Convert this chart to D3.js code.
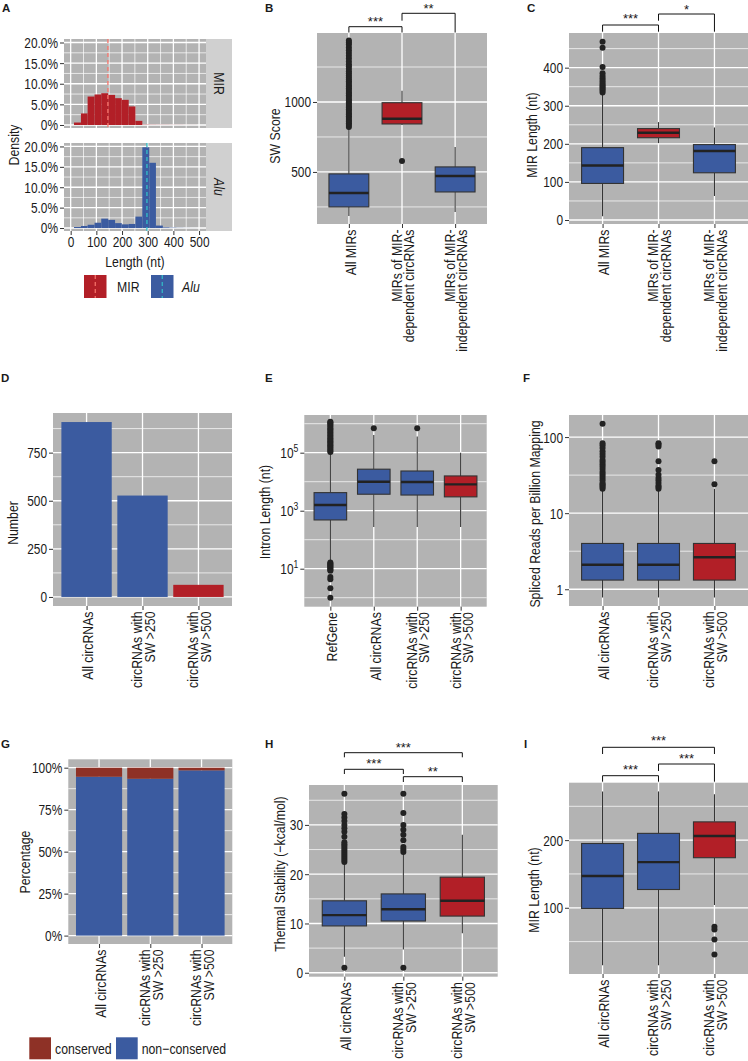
<!DOCTYPE html>
<html><head><meta charset="utf-8">
<script src="https://cdn.jsdelivr.net/npm/d3@7"></script>
<style>
body{margin:0;background:#fff}
svg text{font-family:"Liberation Sans",Arial,Helvetica,sans-serif;fill:#1a1a1a}
</style></head><body>
<svg id="fig" width="748" height="1061"></svg>
<script>
// ================= DATA =================
// Panel A: histogram (bin left edges in nt, density as fraction)
const histBinStarts = [13, 40, 66, 93, 119, 146, 173, 199, 226, 252, 279, 306, 332, 359, 385, 412, 439, 465];
const histBinWidth = 26.6;
const mirDensity = [0.006, 0.028, 0.069, 0.074, 0.077, 0.073, 0.065, 0.061, 0.045, 0.010, 0.0006, 0.0004, 0.0003, 0.0003, 0.0002, 0.0002, 0.0001, 0.0001];
const aluDensity = [0.0025, 0.005, 0.008, 0.013, 0.023, 0.020, 0.012, 0.009, 0.010, 0.028, 0.198, 0.160, 0.006, 0.0015, 0.0008, 0.0004, 0.0002, 0.0001];
const mirMedianLen = 145, aluMedianLen = 297;
const aXTicks = [0, 100, 200, 300, 400, 500];
const aYTicks = [0, 0.05, 0.10, 0.15, 0.20];
const aYLabels = ["0%", "5.0%", "10.0%", "15.0%", "20.0%"];
const aFacets = ["MIR", "Alu"];

// Panel B: SW score
const bCats = ["All MIRs", "MIRs of MIR-|dependent circRNAs", "MIRs of MIR-|independent circRNAs"];
const bQ1 = [250, 843, 357], bMed = [350, 880, 471], bQ3 = [486, 995, 536];
const bLo = [186, 835, 214], bHi = [818, 1080, 679];
const bOut = [[822, 835, 848, 860, 872, 885, 898, 910, 922, 935, 948, 960, 972, 985, 998, 1010, 1022, 1035, 1048, 1060, 1072, 1085, 1098, 1110, 1122, 1135, 1148, 1160, 1175, 1190, 1205, 1220, 1238, 1255, 1270, 1290, 1310, 1330, 1350, 1370, 1390, 1410, 1425, 1440], [578], []];
const bYTicks = [500, 1000], bYMinor = [250, 750, 1250];
const bSig = [{a: 0, b: 1, label: "***"}, {a: 1, b: 2, label: "**"}];

// Panel C: MIR length
const cQ1 = [96, 216, 124], cMed = [143, 229, 181], cQ3 = [190, 240, 198];
const cLo = [10, 202, 63], cHi = [330, 257, 243];
const cOut = [[335, 340, 344, 348, 352, 356, 361, 366, 372, 378, 385, 402, 452, 468], [], []];
const cYTicks = [0, 100, 200, 300, 400], cYMinor = [50, 150, 250, 350, 450];
const cSig = [{a: 0, b: 1, label: "***"}, {a: 1, b: 2, label: "*"}];

// Panel D: number of circRNAs
const dCats = ["All circRNAs", "circRNAs with|SW >250", "circRNAs with|SW >500"];
const dCounts = [909, 527, 63];
const dYTicks = [0, 250, 500, 750], dYMinor = [125, 375, 625, 875];

// Panel E: intron length (log)
const eCats = ["RefGene", "All circRNAs", "circRNAs with|SW >250", "circRNAs with|SW >500"];
const eQ1 = [480, 3700, 3470, 3000], eMed = [1580, 10000, 9800, 8100], eQ3 = [4200, 27000, 23400, 15800];
const eLo = [17.4, 275, 275, 275], eHi = [100000, 410000, 360000, 100000];
const eOut = [[105000, 115000, 130000, 145000, 160000, 180000, 200000, 225000, 250000, 280000, 310000, 350000, 390000, 440000, 500000, 560000, 630000, 700000, 800000, 900000, 1000000, 1100000, 1170000, 16.5, 15, 14, 13, 12, 11, 10, 9, 8.5, 5.2, 4.3, 2.1, 1.0], [690000], [690000], []];
const eYTicks = [10, 1000, 100000], eYMinor = [1, 100, 10000, 1000000];
const eYExp = ["1", "3", "5"];

// Panel F: spliced reads per billion mapping (log)
const fCats = ["All circRNAs", "circRNAs with|SW >250", "circRNAs with|SW >500"];
const fQ1 = [1.32, 1.32, 1.32], fMed = [2.1, 2.1, 2.63], fQ3 = [4.0, 4.0, 4.0];
const fLo = [0.78, 0.78, 0.78], fHi = [20, 20, 21];
const fOut = [[21, 22, 23, 24, 25, 27, 29, 31, 33, 35, 38, 41, 44, 47, 50, 55, 60, 65, 72, 78, 83, 150], [21, 22, 23, 25, 27, 29, 32, 37, 48, 75, 80, 83], [24, 48]];
const fYTicks = [1, 10, 100], fYMinor = [3.1623, 31.623];

// Panel G: conservation
const gConserved = [0.054, 0.066, 0.016];
const gYTicks = [0, 0.25, 0.5, 0.75, 1], gYMinor = [0.125, 0.375, 0.625, 0.875];
const gYLabels = ["0%", "25%", "50%", "75%", "100%"];
const gLegend = ["conserved", "non\u2212conserved"];

// Panel H: thermal stability
const hQ1 = [9.5, 10.5, 11.5], hMed = [11.7, 12.9, 14.6], hQ3 = [14.6, 16.0, 19.4];
const hLo = [3.25, 4.7, 8.0], hHi = [22.2, 24.2, 28.0];
const hOut = [[22.5, 22.9, 23.3, 23.7, 24.1, 24.5, 24.9, 25.3, 25.7, 26.1, 26.5, 27.6, 28.6, 29.3, 30.0, 30.8, 31.5, 32.2, 36.3, 1.0], [24.5, 25.0, 25.5, 26.9, 28.0, 29.0, 30.0, 32.4, 36.3, 1.0], []];
const hYTicks = [0, 10, 20, 30], hYMinor = [5, 15, 25, 35];
const hSig = [{a: 0, b: 2, label: "***"}, {a: 0, b: 1, label: "***"}, {a: 1, b: 2, label: "**"}];

// Panel I: MIR length by circRNA group
const iQ1 = [99, 127, 174], iMed = [147, 167.5, 206], iQ3 = [195, 210, 227];
const iLo = [15, 15, 104], iHi = [272, 272, 268];
const iOut = [[], [], [72, 68, 53, 31]];
const iYTicks = [100, 200], iYMinor = [50, 150, 250];
const iSig = [{a: 0, b: 2, label: "***"}, {a: 1, b: 2, label: "***"}, {a: 0, b: 1, label: "***"}];

// ================= STYLE / LAYOUT =================
const BLUE = "#3B5BA0", RED = "#B21F27", CONS = "#8E3126", BG = "#B3B3B3", STRIP = "#D0D0D0";
const MIRLINE = "#F8766D", ALULINE = "#33BFC8";
const TICKFS = 14.5, TITLEFS = 15, CATFS = 15;
const NARROW = 0.82;
const svg = d3.select("#fig");

function hline(g, x0, x1, y, w) {
  g.append("line").attr("x1", x0).attr("x2", x1).attr("y1", y).attr("y2", y).attr("stroke", "#fff").attr("stroke-width", w);
}
function vline(g, x, y0, y1, w) {
  g.append("line").attr("x1", x).attr("x2", x).attr("y1", y0).attr("y2", y1).attr("stroke", "#fff").attr("stroke-width", w);
}
function letter(t, x, y) {
  svg.append("text").text(t).attr("x", x).attr("y", y).attr("font-size", 11.5).attr("font-weight", "bold")
    .attr("class", "noscale").attr("fill", "#000");
}
function yTitle(t, cx, cy) {
  svg.append("text").text(t).attr("transform", `translate(${cx},${cy}) rotate(-90)`)
    .attr("text-anchor", "middle").attr("dy", "0.34em").attr("font-size", TITLEFS);
}
function yAxis(g, y, x0, ticks, labels) {
  const ax = g.append("g").attr("transform", `translate(${x0},0)`)
    .call(d3.axisLeft(y).tickValues(ticks).tickSize(4).tickPadding(2).tickFormat((d, i) => labels ? labels[i] : d));
  ax.select(".domain").remove();
  ax.selectAll(".tick line").attr("stroke", "#333").attr("stroke-width", 1);
  ax.selectAll(".tick text").attr("font-size", TICKFS).attr("fill", "#222").attr("dy", "0.34em");
  ax.attr("font-family", null);
  return ax;
}
function xCatAxis(g, x, y1, cats) {
  const ax = g.append("g").attr("transform", `translate(0,${y1})`)
    .call(d3.axisBottom(x).tickSize(4).tickFormat(""));
  ax.select(".domain").remove();
  ax.selectAll(".tick line").attr("stroke", "#333");
  cats.forEach(c => {
    const lines = c.split("|");
    const t = g.append("text").attr("transform", `translate(${x(c)},${y1 + 5.5}) rotate(-90)`)
      .attr("text-anchor", "end").attr("font-size", CATFS);
    const offs = lines.length === 1 ? [1.5] : [-5.5, 6.8];
    lines.forEach((l, i) => {
      t.append("tspan").attr("x", 0).attr("y", offs[i] + CATFS * 0.36).text(l);
    });
  });
}
function panelFrame(g, L) {
  g.append("rect").attr("x", L.x0).attr("y", L.y0).attr("width", L.x1 - L.x0).attr("height", L.y1 - L.y0).attr("fill", BG);
}
function sigBrackets(g, x, sig, L) {
  sig.forEach((s, i) => {
    const p = L.sig[i];
    const xa = x(x.domain()[s.a]);
    const xb = x(x.domain()[s.b]);
    g.append("path").attr("d", `M${xa},${p.la}V${p.y}H${xb}V${p.lb}`)
      .attr("fill", "none").attr("stroke", "#111").attr("stroke-width", 1);
    g.append("text").text(s.label).attr("x", (xa + xb) / 2).attr("y", p.ty).attr("text-anchor", "middle")
      .attr("font-size", 13).attr("class", "noscale");
  });
}

function boxPanel(L, cats, q1, med, q3, lo, hi, out, fills, yScale, ticks, minor, labels, sig) {
  const g = svg.append("g");
  panelFrame(g, L);
  const x = d3.scalePoint().domain(cats).range([L.x0, L.x1]).padding(0.6);
  const y = yScale.range([L.y1, L.y0]);
  minor.forEach(v => hline(g, L.x0, L.x1, y(v), 0.7));
  ticks.forEach(v => hline(g, L.x0, L.x1, y(v), 1.3));
  cats.forEach(c => vline(g, x(c), L.y0, L.y1, 1.3));
  const ax = yAxis(g, y, L.x0, ticks, labels);
  xCatAxis(g, x, L.y1, cats);
  const w = x.step() * 0.75;
  cats.forEach((c, i) => {
    const cx = x(c);
    g.append("line").attr("x1", cx).attr("x2", cx).attr("y1", y(lo[i])).attr("y2", y(q1[i])).attr("stroke", "#333").attr("stroke-width", 1.1);
    g.append("line").attr("x1", cx).attr("x2", cx).attr("y1", y(q3[i])).attr("y2", y(hi[i])).attr("stroke", "#333").attr("stroke-width", 1.1);
    g.append("rect").attr("x", cx - w / 2).attr("width", w).attr("y", y(q3[i])).attr("height", y(q1[i]) - y(q3[i]))
      .attr("fill", fills[i]).attr("stroke", "#333").attr("stroke-width", 1.1);
    g.append("line").attr("x1", cx - w / 2).attr("x2", cx + w / 2).attr("y1", y(med[i])).attr("y2", y(med[i])).attr("stroke", "#222").attr("stroke-width", 2.4);
    out[i].forEach(v => g.append("circle").attr("cx", cx).attr("cy", y(v)).attr("r", 3).attr("fill", "#222"));
  });
  if (sig) sigBrackets(g, x, sig, L);
  return {g, x, y, ax};
}

// ================= PANEL A =================
(function () {
  const XL = {x0: 64, x1: 206};
  const facets = [{y0: 39, y1: 128, dens: mirDensity, fill: RED, med: mirMedianLen, lc: MIRLINE},
                  {y0: 143, y1: 231, dens: aluDensity, fill: BLUE, med: aluMedianLen, lc: ALULINE}];
  const x = d3.scaleLinear().domain([-26, 527]).range([XL.x0, XL.x1]);
  facets.forEach((f, k) => {
    const g = svg.append("g");
    const L = {x0: XL.x0, x1: XL.x1, y0: f.y0, y1: f.y1};
    panelFrame(g, L);
    const y = d3.scaleLinear().domain([-0.0073, 0.2085]).range([f.y1, f.y0]);
    [0.025, 0.075, 0.125, 0.175].forEach(v => hline(g, L.x0, L.x1, y(v), 0.7));
    [50, 150, 250, 350, 450].forEach(v => vline(g, x(v), L.y0, L.y1, 0.7));
    aYTicks.forEach(v => hline(g, L.x0, L.x1, y(v), 1.3));
    aXTicks.forEach(v => vline(g, x(v), L.y0, L.y1, 1.3));
    histBinStarts.forEach((s, i) => {
      const e = i < histBinStarts.length - 1 ? histBinStarts[i + 1] : s + histBinWidth;
      g.append("rect").attr("x", x(s)).attr("width", x(e) - x(s)).attr("y", y(f.dens[i])).attr("height", y(0) - y(f.dens[i])).attr("fill", f.fill);
    });
    g.append("line").attr("x1", x(f.med)).attr("x2", x(f.med)).attr("y1", L.y0).attr("y2", L.y1)
      .attr("stroke", f.lc).attr("stroke-width", 1.3).attr("stroke-dasharray", "4,3");
    yAxis(g, y, L.x0, aYTicks, aYLabels);
    // strip
    g.append("rect").attr("x", 206).attr("y", f.y0).attr("width", 26).attr("height", f.y1 - f.y0).attr("fill", STRIP);
    g.append("text").text(aFacets[k]).attr("transform", `translate(219,${(f.y0 + f.y1) / 2}) rotate(90)`)
      .attr("text-anchor", "middle").attr("dy", "0.34em").attr("font-size", TITLEFS).attr("font-style", k === 1 ? "italic" : null);
    if (k === 1) {
      const ax = g.append("g").attr("transform", `translate(0,${L.y1})`).call(d3.axisBottom(x).tickValues(aXTicks).tickSize(4).tickPadding(2));
      ax.select(".domain").remove();
      ax.selectAll(".tick line").attr("stroke", "#333");
      ax.selectAll(".tick text").attr("font-size", TICKFS).attr("fill", "#222");
      ax.attr("font-family", null);
    }
  });
  svg.append("text").text("Length (nt)").attr("x", 135).attr("y", 266.5).attr("text-anchor", "middle").attr("font-size", TITLEFS);
  yTitle("Density", 13.5, 145);
  // legend
  const keys = [{x: 84, fill: RED, lc: MIRLINE, label: "MIR", it: false, tx: 117}, {x: 151, fill: BLUE, lc: ALULINE, label: "Alu", it: true, tx: 182}];
  keys.forEach(k => {
    svg.append("rect").attr("x", k.x).attr("y", 275).attr("width", 22.5).attr("height", 23).attr("fill", k.fill);
    svg.append("line").attr("x1", k.x + 11.25).attr("x2", k.x + 11.25).attr("y1", 275).attr("y2", 298)
      .attr("stroke", k.lc).attr("stroke-width", 1.2).attr("stroke-dasharray", "4,3");
    svg.append("text").text(k.label).attr("x", k.tx).attr("y", 291.5).attr("font-size", TITLEFS).attr("font-style", k.it ? "italic" : null);
  });
  letter("A", 2, 12);
})();

// ================= PANEL B =================
(function () {
  const L = {x0: 317, x1: 487, y0: 33, y1: 224,
    sig: [{y: 26.7, la: 32.5, lb: 32.5, ty: 25.5}, {y: 13.3, la: 20.7, lb: 32.5, ty: 13.3}]};
  boxPanel(L, bCats, bQ1, bMed, bQ3, bLo, bHi, bOut, [BLUE, RED, BLUE],
    d3.scaleLinear().domain([128, 1493]), bYTicks, bYMinor, null, bSig);
  yTitle("SW  Score", 275, 136);
  letter("B", 265, 12);
})();

// ================= PANEL C =================
(function () {
  const L = {x0: 569, x1: 748, y0: 33, y1: 224,
    sig: [{y: 25, la: 31.7, lb: 31.7, ty: 23.3}, {y: 14, la: 20.7, lb: 31.7, ty: 13.5}]};
  boxPanel(L, bCats, cQ1, cMed, cQ3, cLo, cHi, cOut, [BLUE, RED, BLUE],
    d3.scaleLinear().domain([-10.5, 491]), cYTicks, cYMinor, null, cSig);
  yTitle("MIR Length (nt)", 532, 135);
  letter("C", 527, 12);
})();

// ================= PANEL D =================
(function () {
  const L = {x0: 53, x1: 232, y0: 413, y1: 606};
  const g = svg.append("g");
  panelFrame(g, L);
  const x = d3.scalePoint().domain(dCats).range([L.x0, L.x1]).padding(0.6);
  const y = d3.scaleLinear().domain([-47, 956]).range([L.y1, L.y0]);
  dYMinor.forEach(v => hline(g, L.x0, L.x1, y(v), 0.7));
  dYTicks.forEach(v => hline(g, L.x0, L.x1, y(v), 1.3));
  dCats.forEach(c => vline(g, x(c), L.y0, L.y1, 1.3));
  yAxis(g, y, L.x0, dYTicks, null);
  xCatAxis(g, x, L.y1, dCats);
  const w = x.step() * 0.9;
  const fills = [BLUE, BLUE, RED];
  dCats.forEach((c, i) => {
    g.append("rect").attr("x", x(c) - w / 2).attr("width", w).attr("y", y(dCounts[i])).attr("height", y(0) - y(dCounts[i])).attr("fill", fills[i]);
  });
  yTitle("Number", 13, 523);
  letter("D", 1, 382);
})();

// ================= PANEL E =================
(function () {
  const L = {x0: 304.3, x1: 486.7, y0: 415, y1: 606.7};
  const r = boxPanel(L, eCats, eQ1, eMed, eQ3, eLo, eHi, eOut, [BLUE, BLUE, BLUE, RED],
    d3.scaleLog().domain([Math.pow(10, -0.31), Math.pow(10, 6.3)]), eYTicks, eYMinor, eYTicks.map(() => ""), null);
  r.ax.selectAll(".tick text").each(function (d, i) {
    const t = d3.select(this);
    t.text(null);
    t.append("tspan").text("10");
    t.append("tspan").text(eYExp[i]).attr("font-size", 10.5).attr("dy", "-0.55em");
  });
  yTitle("Intron Length (nt)", 265, 512);
  letter("E", 265, 382);
})();

// ================= PANEL F =================
(function () {
  const L = {x0: 569, x1: 748, y0: 415, y1: 606};
  boxPanel(L, fCats, fQ1, fMed, fQ3, fLo, fHi, fOut, [BLUE, BLUE, RED],
    d3.scaleLog().domain([Math.pow(10, -0.22), Math.pow(10, 2.29)]), fYTicks, fYMinor, null, null);
  yTitle("Spliced Reads per Billion Mapping", 534.5, 514);
  letter("F", 523, 382);
})();

// ================= PANEL G =================
(function () {
  const L = {x0: 68.3, x1: 232.3, y0: 759.3, y1: 944};
  const g = svg.append("g");
  panelFrame(g, L);
  const x = d3.scalePoint().domain(dCats).range([L.x0, L.x1]).padding(0.6);
  const y = d3.scaleLinear().domain([-0.05, 1.05]).range([L.y1, L.y0]);
  gYMinor.forEach(v => hline(g, L.x0, L.x1, y(v), 0.7));
  gYTicks.forEach(v => hline(g, L.x0, L.x1, y(v), 1.3));
  dCats.forEach(c => vline(g, x(c), L.y0, L.y1, 1.3));
  yAxis(g, y, L.x0, gYTicks, gYLabels);
  xCatAxis(g, x, L.y1, dCats);
  const w = x.step() * 0.9;
  dCats.forEach((c, i) => {
    const nc = 1 - gConserved[i];
    g.append("rect").attr("x", x(c) - w / 2).attr("width", w).attr("y", y(nc)).attr("height", y(0) - y(nc)).attr("fill", BLUE);
    g.append("rect").attr("x", x(c) - w / 2).attr("width", w).attr("y", y(1)).attr("height", y(nc) - y(1)).attr("fill", CONS);
  });
  yTitle("Percentage", 24.5, 862);
  const lk = [{x: 29.3, fill: CONS, tx: 55}, {x: 116, fill: BLUE, tx: 141.7}];
  lk.forEach((k, i) => {
    svg.append("rect").attr("x", k.x).attr("y", 1037.3).attr("width", 21.7).attr("height", 22).attr("fill", k.fill);
    svg.append("text").text(gLegend[i]).attr("x", k.tx).attr("y", 1054).attr("font-size", TITLEFS);
  });
  letter("G", 1, 747.5);
})();

// ================= PANEL H =================
(function () {
  const L = {x0: 309, x1: 497.7, y0: 785, y1: 976.7,
    sig: [{y: 752.7, la: 757.3, lb: 757.3, ty: 751.5}, {y: 769.3, la: 774, lb: 774, ty: 768}, {y: 776.7, la: 782, lb: 782, ty: 775.5}]};
  boxPanel(L, dCats, hQ1, hMed, hQ3, hLo, hHi, hOut, [BLUE, BLUE, RED],
    d3.scaleLinear().domain([-0.8, 38.1]), hYTicks, hYMinor, null, hSig);
  yTitle("Thermal Stability (\u2212kcal/mol)", 279.5, 874);
  letter("H", 265, 747.5);
})();

// ================= PANEL I =================
(function () {
  const L = {x0: 569, x1: 748, y0: 782.7, y1: 974,
    sig: [{y: 747.3, la: 754, lb: 754, ty: 745}, {y: 764, la: 771, lb: 781.7, ty: 762.5}, {y: 775.7, la: 781.7, lb: 781.7, ty: 774}]};
  boxPanel(L, dCats, iQ1, iMed, iQ3, iLo, iHi, iOut, [BLUE, BLUE, RED],
    d3.scaleLinear().domain([2.1, 284.9]), iYTicks, iYMinor, null, iSig);
  yTitle("MIR Length (nt)", 533.5, 890);
  letter("I", 524, 747.5);
})();

// ===== condensed lettering: compress glyphs horizontally (along the text direction) =====
svg.selectAll("text").each(function () {
  const t = d3.select(this);
  if (t.classed("noscale")) return;
  const x = +t.attr("x") || 0, y = +t.attr("y") || 0;
  const T = t.attr("transform") || "";
  t.attr("transform", `${T} translate(${x},${y}) scale(${NARROW},1)`).attr("x", null).attr("y", null);
});
</script>
</body></html>
